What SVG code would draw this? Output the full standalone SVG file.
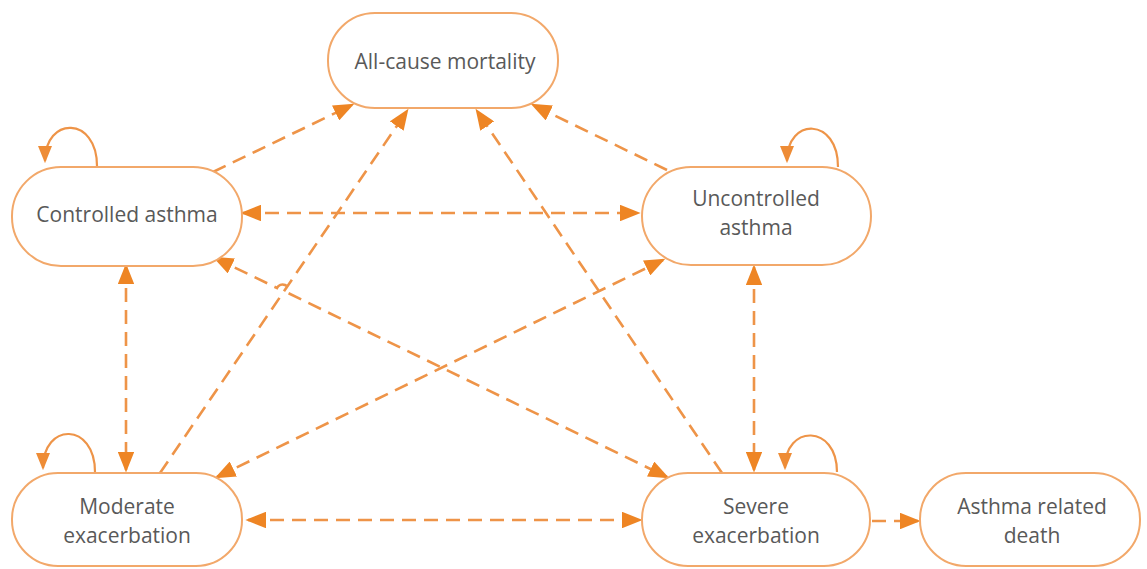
<svg xmlns="http://www.w3.org/2000/svg" width="1147" height="569" viewBox="0 0 1147 569">
<style>
.node{fill:#fff;stroke:#F2A86A;stroke-width:2}
.lbl{font-family:"Open Sans","Noto Sans",sans-serif;font-size:21px;fill:#595959;text-anchor:middle}
.c{fill:none;stroke:#EE9448;stroke-width:2.6;stroke-dasharray:14 8}
.loop{fill:none;stroke:#EE9448;stroke-width:2.2}
</style>
<defs>
<marker id="ah" markerWidth="8" markerHeight="6.4" refX="7" refY="3.2" orient="auto-start-reverse" markerUnits="strokeWidth">
<path d="M0,0 L8,3.2 L0,6.4 Z" fill="#EE8524"/>
</marker>
<marker id="al" markerWidth="8" markerHeight="6.5" refX="7" refY="3.25" orient="auto" markerUnits="strokeWidth">
<path d="M0,0 L8,3.25 L0,6.5 Z" fill="#EE8C36"/>
</marker>
</defs>
<rect width="1147" height="569" fill="#fff"/>
<g id="connectors">
<path class="c" d="M213 172 L352 105" marker-end="url(#ah)"/>
<path class="c" d="M243 213 L638 213" marker-start="url(#ah)" marker-end="url(#ah)"/>
<path class="c" d="M667 170 L533 105" marker-end="url(#ah)"/>
<path class="c" d="M160 473 L407 111" marker-end="url(#ah)"/>
<path class="c" d="M722 473 L477 111" marker-end="url(#ah)"/>
<path class="c" d="M215 258 L277 288 A6 6 0 0 1 288 293 L667 477" marker-start="url(#ah)" marker-end="url(#ah)"/>
<path class="c" d="M217 477 L663 260" marker-start="url(#ah)" marker-end="url(#ah)"/>
<path class="c" d="M126 266 L126 470" marker-start="url(#ah)" marker-end="url(#ah)"/>
<path class="c" d="M754 267 L754 470" marker-start="url(#ah)" marker-end="url(#ah)"/>
<path class="c" d="M248 520 L640 520" marker-start="url(#ah)" marker-end="url(#ah)"/>
<path class="c" d="M872 521 L918 521" marker-end="url(#ah)"/>
<path class="loop" d="M97 166 C97 116 45 116 45 161" marker-end="url(#al)"/>
<path class="loop" d="M838 167 C838 117 787 117 787 161" marker-end="url(#al)"/>
<path class="loop" d="M95 472 C95 422 43 422 43 468" marker-end="url(#al)"/>
<path class="loop" d="M837 472 C837 424 785 424 785 468" marker-end="url(#al)"/>
</g>
<g id="n-mortality">
<rect class="node" x="328" y="13" width="230" height="95" rx="47"/>
<text class="lbl" x="445" y="69">All-cause mortality</text>
</g>
<g id="n-controlled">
<rect class="node" x="12" y="167" width="230" height="99" rx="49"/>
<text class="lbl" x="127" y="222">Controlled asthma</text>
</g>
<g id="n-uncontrolled">
<rect class="node" x="642" y="167" width="229" height="98" rx="49"/>
<text class="lbl" x="756" y="206">Uncontrolled</text>
<text class="lbl" x="756" y="235">asthma</text>
</g>
<g id="n-moderate">
<rect class="node" x="12" y="473" width="230" height="93" rx="46"/>
<text class="lbl" x="127" y="514">Moderate</text>
<text class="lbl" x="127" y="543">exacerbation</text>
</g>
<g id="n-severe">
<rect class="node" x="642" y="473" width="228" height="93" rx="46"/>
<text class="lbl" x="756" y="514">Severe</text>
<text class="lbl" x="756" y="543">exacerbation</text>
</g>
<g id="n-death">
<rect class="node" x="920" y="473" width="220" height="93" rx="46"/>
<text class="lbl" x="1032" y="514">Asthma related</text>
<text class="lbl" x="1032" y="543">death</text>
</g>
</svg>
